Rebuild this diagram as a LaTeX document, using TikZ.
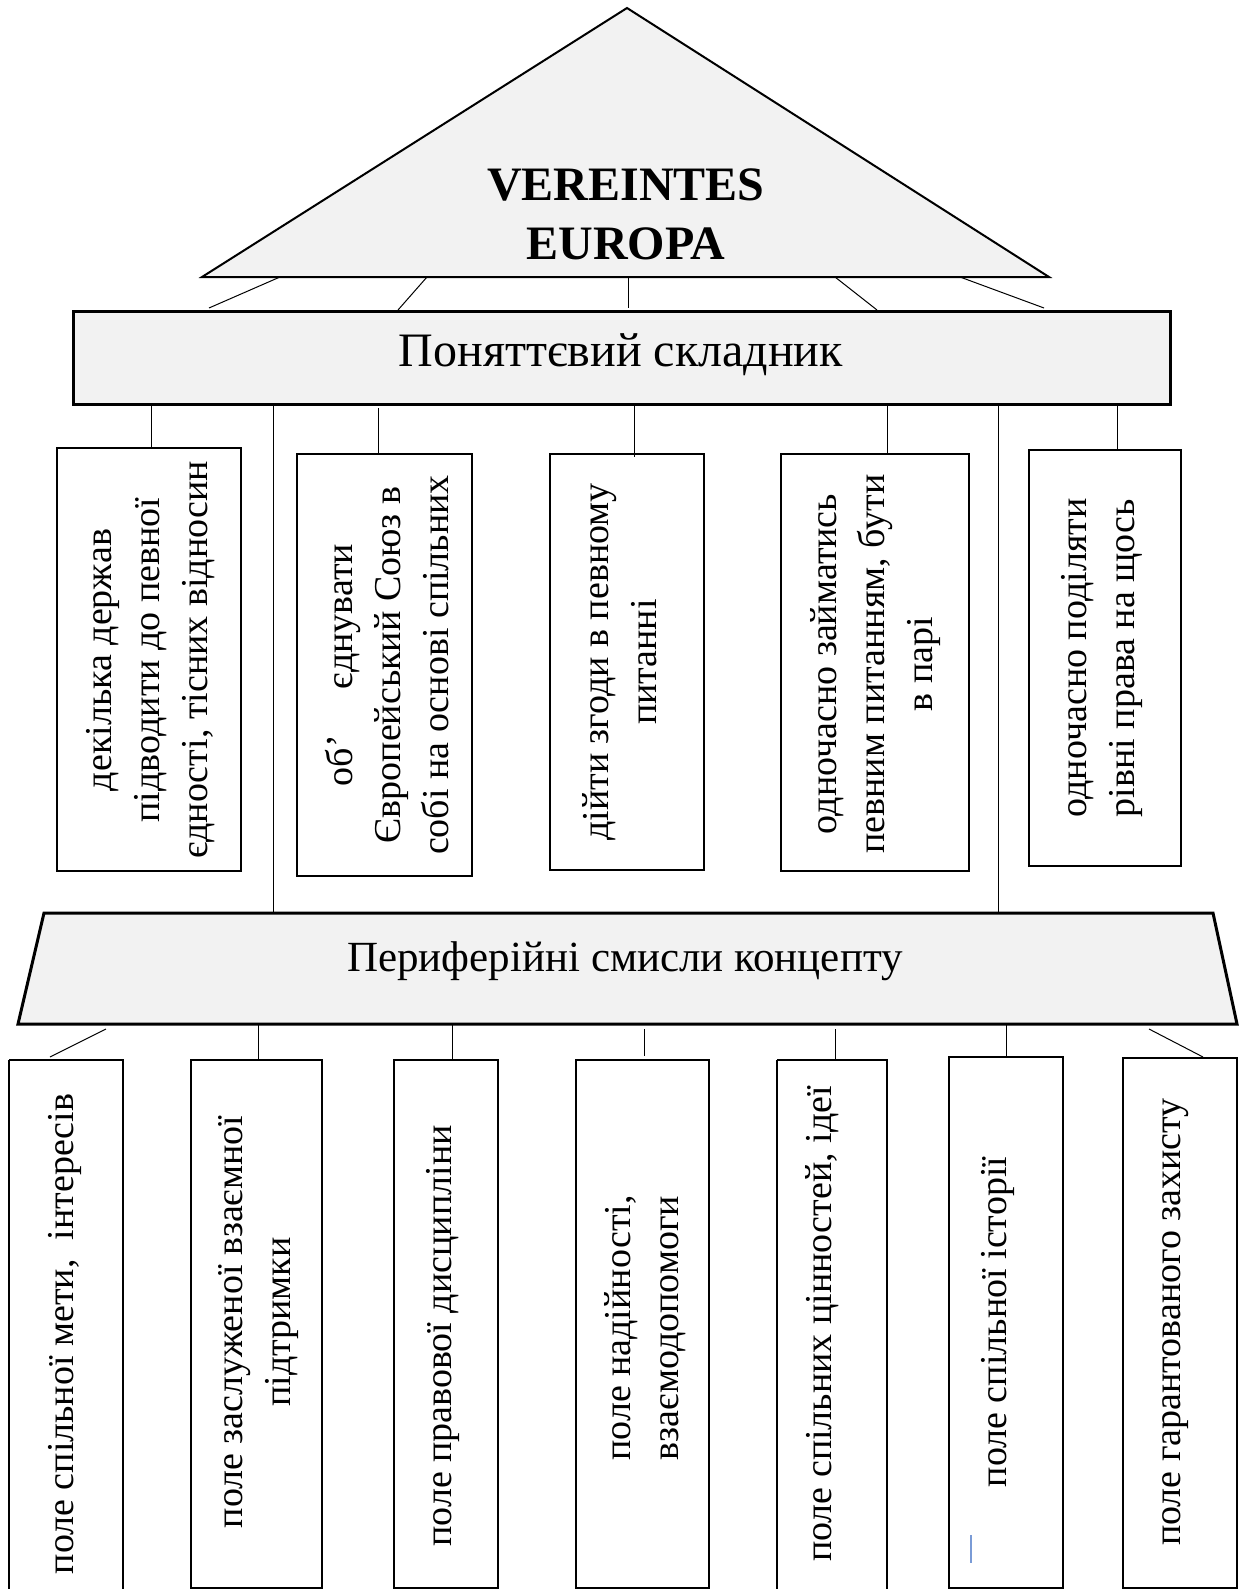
\documentclass[tikz,border=0pt]{standalone}
\usepackage{fontspec}
\setmainfont{Liberation Serif}
\usetikzlibrary{calc}
\definecolor{panelgray}{HTML}{F2F2F2}
\definecolor{cursorblue}{HTML}{7A9BD6}
\tikzset{
  panel/.style={draw=black, fill=panelgray, line width=2.5pt, line join=miter},
  vbox/.style={draw=black, fill=white, line width=2.7pt},
  conn/.style={draw=black, line width=1pt},
  bigtext/.style={font=\fontsize{48}{59}\selectfont, align=center, inner sep=0pt},
  vtext/.style={font=\fontsize{38}{48}\selectfont, align=center, inner sep=0pt, rotate=90},
}
\begin{document}
\begin{tikzpicture}[x=1pt,y=-1pt]
\useasboundingbox (0,0) rectangle (1246,1589);
% ---------- roof ----------
\coordinate (apex) at (627,8);
\coordinate (tl) at (202,277);
\coordinate (tr) at (1049,277);
\path[panel, line width=2pt] (apex) -- (tr) -- (tl) -- cycle;
\node[bigtext, font=\fontsize{48}{59}\selectfont\bfseries] (title) at (626,214) {VEREINTES\\EUROPA};
% ---------- conceptual component ----------
\path[panel, line width=3pt] (73,311) rectangle (1170,404);
\node[bigtext] (concept) at (621,355) {Поняттєвий складник};
% roof legs
\coordinate (r1) at (280,277); \coordinate (c1) at (209,308);
\coordinate (r2) at (427,277); \coordinate (c2) at (398,310);
\coordinate (r3) at (628,277); \coordinate (c3) at (628,308);
\coordinate (r4) at (835,277); \coordinate (c4) at (877,310);
\coordinate (r5) at (960,277); \coordinate (c5) at (1044,308);
\foreach \i in {1,...,5} {\draw[conn] (r\i) -- (c\i);}
% ---------- periphery ----------
\coordinate (ptl) at (44,913);
\coordinate (ptr) at (1213,913);
\coordinate (pbr) at (1237,1024);
\coordinate (pbl) at (18,1024);
\path[panel, line width=3pt] (ptl) -- (ptr) -- (pbr) -- (pbl) -- cycle;
\node[bigtext, font=\fontsize{43}{52}\selectfont] (periph) at (625,961) {Периферійні смисли концепту};
% ---------- upper boxes ----------
\path[vbox] (57,448) rectangle (241,871);
\path[vbox] (297,454) rectangle (472,876);
\path[vbox] (550,454) rectangle (704,870);
\path[vbox] (781,454) rectangle (969,871);
\path[vbox] (1029,450) rectangle (1181,866);
\node[vtext] (u1) at (151,660) {декілька держав\\підводити до певної\\єдності, тісних відносин};
\node[vtext] (u2) at (387,665) {об’\hspace{46pt}єднувати\\Європейський Союз в\\собі на основі спільних};
\node[vtext] (u3) at (620,662) {дійти згоди в певному\\питанні};
\node[vtext] (u4) at (876,664) {одночасно займатись\\певним питанням, бути\\в парі};
\node[vtext] (u5) at (1102,658) {одночасно поділяти\\рівні права на щось};
% connectors concept -> upper boxes
\coordinate (a1) at (151,404); \coordinate (b1) at (151,448);
\coordinate (a2) at (378,408); \coordinate (b2) at (378,454);
\coordinate (a3) at (634,404); \coordinate (b3) at (634,457);
\coordinate (a4) at (887,404); \coordinate (b4) at (887,454);
\coordinate (a5) at (1117,404); \coordinate (b5) at (1117,450);
\foreach \i in {1,...,5} {\draw[conn] (a\i) -- (b\i);}
% long pillars
\coordinate (p1a) at (273,404); \coordinate (p1b) at (273,913);
\coordinate (p2a) at (998,404); \coordinate (p2b) at (998,913);
\draw[conn] (p1a) -- (p1b);
\draw[conn] (p2a) -- (p2b);
% ---------- lower boxes ----------
\path[vbox] (9,1060) -- (9,1595) (9,1060) -- (123,1060) -- (123,1595);
\path[vbox] (191,1060) rectangle (322,1588);
\path[vbox] (394,1060) rectangle (498,1588);
\path[vbox] (576,1060) rectangle (709,1588);
\path[vbox] (777,1060) -- (777,1595) (777,1060) -- (887,1060) -- (887,1595);
\path[vbox] (949,1057) rectangle (1063,1588);
\path[vbox] (1123,1058) rectangle (1237,1588);
\node[vtext] (l1) at (65,1334) {поле спільної мети,\ \ інтересів};
\node[vtext] (l2) at (259,1322) {поле заслуженої взаємної\\підтримки};
\node[vtext] (l3) at (443,1336) {поле правової дисципліни};
\node[vtext] (l4) at (645,1328) {поле надійності,\\взаємодопомоги};
\node[vtext] (l5) at (822,1324) {поле спільних цінностей, ідеї};
\node[vtext] (l6) at (998,1322) {поле спільної історії};
\node[vtext] (l7) at (1176,1322) {поле гарантованого захисту};
\draw[cursorblue, line width=1.5pt] (971,1535) -- (971,1563);
% connectors periphery -> lower boxes
\coordinate (d1) at (106,1029); \coordinate (e1) at (50,1057);
\coordinate (d2) at (258,1024); \coordinate (e2) at (258,1060);
\coordinate (d3) at (452,1024); \coordinate (e3) at (452,1060);
\coordinate (d4) at (644,1029); \coordinate (e4) at (644,1056);
\coordinate (d5) at (835,1029); \coordinate (e5) at (835,1060);
\coordinate (d6) at (1006,1024); \coordinate (e6) at (1006,1057);
\coordinate (d7) at (1149,1029); \coordinate (e7) at (1203,1057);
\foreach \i in {1,...,7} {\draw[conn] (d\i) -- (e\i);}
\end{tikzpicture}
\end{document}
